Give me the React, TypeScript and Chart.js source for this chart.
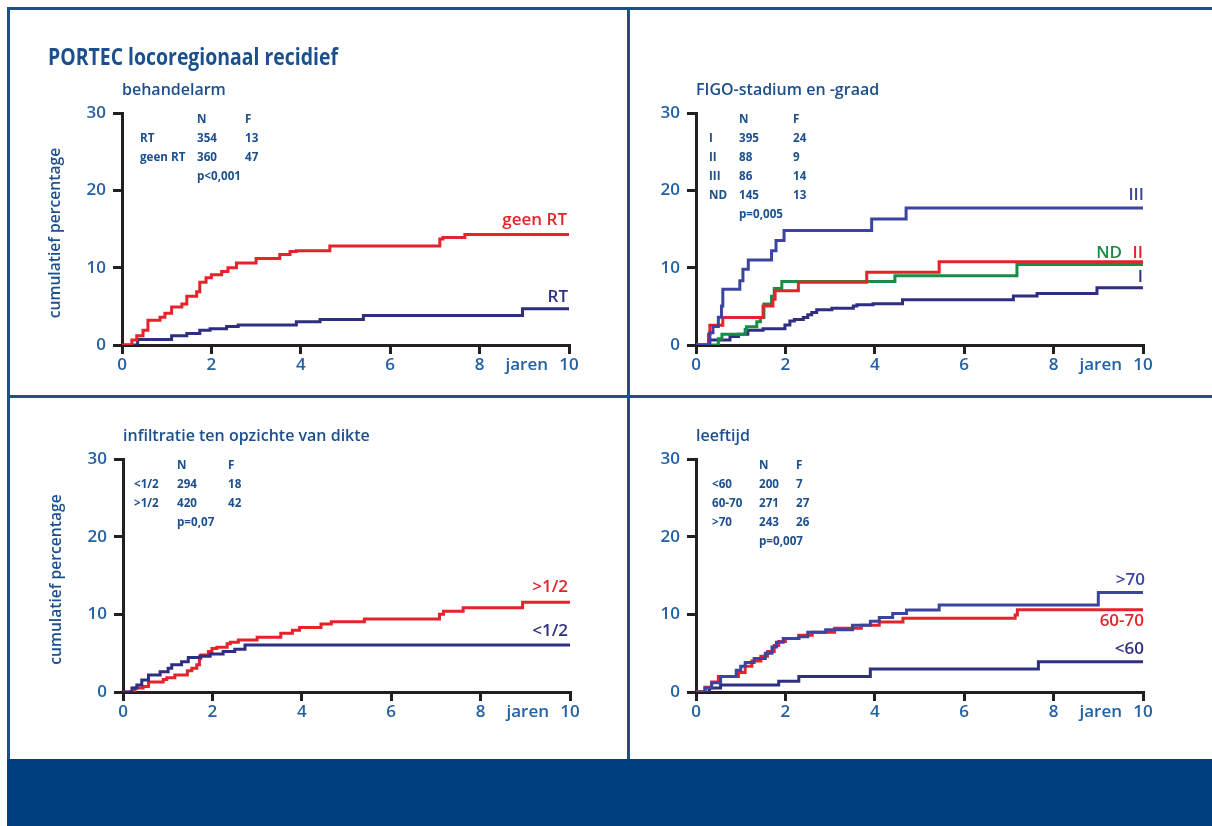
import React, { useEffect, useRef } from 'react';
import { Chart, registerables } from 'chart.js';

Chart.register(...registerables);

const FONT = "'Open Sans', 'Noto Sans', 'DejaVu Sans', sans-serif";
const NAVY = '#2e2f80';
const BLUE = '#3b45a0';
const RED = '#e5232b';
const GREEN = '#1b8c46';
const TEXT = '#1b4f8d';
const TICK = '#2460a4';
const AXIS = '#231f20';
const FRAME = '#1f4f8b';
const BAND = '#003f7e';

// ---- shared axis data ----
const xTickValues = [0, 2, 4, 6, 8, 10];
const yTickValues = [0, 10, 20, 30];
const xUnitLabel = 'jaren';
const yAxisTitle = 'cumulatief percentage';
const mainTitle = 'PORTEC locoregionaal recidief';

// ---- panel A: behandelarm ----
const armTitle = 'behandelarm';
const armGroups = ['RT', 'geen RT'];
const armN = ['354', '360'];
const armF = ['13', '47'];
const armP = 'p<0,001';
const geenRtYears = [0, 0.22, 0.33, 0.47, 0.58, 0.85, 0.96, 1.11, 1.34, 1.45, 1.67, 1.74, 1.88, 2.0, 2.23, 2.37, 2.56, 3.0, 3.53, 3.76, 3.9, 4.65, 7.11, 7.18, 7.67, 10];
const geenRtPct = [0, 0.65, 1.2, 1.9, 3.2, 3.6, 4.1, 4.9, 5.3, 6.3, 6.9, 8.1, 8.7, 9.1, 9.5, 10.0, 10.6, 11.2, 11.7, 12.1, 12.2, 12.8, 13.7, 13.9, 14.3, 14.3];
const rtYears = [0, 0.35, 1.11, 1.45, 1.74, 1.97, 2.34, 2.6, 3.9, 4.43, 5.4, 8.96, 10];
const rtPct = [0, 0.7, 1.2, 1.5, 1.9, 2.1, 2.4, 2.6, 3.0, 3.3, 3.8, 4.7, 4.7];

// ---- panel B: FIGO-stadium en -graad ----
const figoTitle = 'FIGO-stadium en -graad';
const figoGroups = ['I', 'II', 'III', 'ND'];
const figoN = ['395', '88', '86', '145'];
const figoF = ['24', '9', '14', '13'];
const figoP = 'p=0,005';
const stage3Years = [0, 0.31, 0.38, 0.5, 0.57, 0.6, 0.98, 1.05, 1.17, 1.69, 1.79, 1.97, 3.93, 4.7, 10];
const stage3Pct = [0, 1.6, 2.4, 3.6, 5.05, 7.2, 8.3, 9.8, 11.0, 12.2, 13.5, 14.8, 16.3, 17.7, 17.7];
const stage2Years = [0, 0.28, 0.31, 0.6, 1.5, 1.72, 1.77, 2.29, 3.82, 5.44, 10];
const stage2Pct = [0, 1.4, 2.55, 3.55, 5.05, 5.9, 7.0, 8.1, 9.4, 10.75, 10.75];
const stageNdYears = [0, 0.5, 0.58, 1.1, 1.13, 1.36, 1.44, 1.52, 1.69, 1.75, 1.92, 4.45, 7.18, 10];
const stageNdPct = [0, 0.8, 1.4, 2.0, 2.35, 3.0, 3.55, 5.3, 6.3, 7.3, 8.2, 8.95, 10.4, 10.4];
const stage1Years = [0, 0.28, 0.76, 0.95, 1.16, 1.5, 1.99, 2.1, 2.2, 2.4, 2.5, 2.59, 2.7, 3.04, 3.52, 3.6, 3.96, 4.62, 7.1, 7.63, 8.97, 10];
const stage1Pct = [0, 0.65, 1.1, 1.4, 1.9, 2.1, 2.6, 3.1, 3.3, 3.55, 3.9, 4.2, 4.55, 4.75, 5.05, 5.2, 5.35, 5.85, 6.35, 6.65, 7.4, 7.4];

// ---- panel C: infiltratie ----
const infTitle = 'infiltratie ten opzichte van dikte';
const infGroups = ['<1/2', '>1/2'];
const infN = ['294', '420'];
const infF = ['18', '42'];
const infP = 'p=0,07';
const deepYears = [0, 0.27, 0.45, 0.57, 0.9, 0.98, 1.16, 1.44, 1.54, 1.65, 1.71, 1.74, 1.91, 1.99, 2.1, 2.33, 2.4, 2.58, 3.0, 3.53, 3.79, 3.95, 4.43, 4.66, 5.4, 7.08, 7.17, 7.61, 8.94, 10];
const deepPct = [0, 0.5, 0.7, 1.3, 1.6, 1.85, 2.2, 2.75, 3.05, 3.5, 4.3, 4.75, 5.2, 5.6, 5.75, 6.2, 6.4, 6.7, 7.05, 7.55, 7.95, 8.3, 8.75, 9.05, 9.4, 10.0, 10.4, 10.85, 11.55, 11.55];
const superficialYears = [0, 0.2, 0.31, 0.42, 0.57, 0.83, 1.01, 1.09, 1.31, 1.46, 1.72, 1.95, 2.24, 2.5, 2.73, 10];
const superficialPct = [0, 0.5, 0.9, 1.55, 2.2, 2.6, 3.05, 3.5, 3.9, 4.45, 4.6, 4.9, 5.2, 5.5, 6.05, 6.05];

// ---- panel D: leeftijd ----
const ageTitle = 'leeftijd';
const ageGroups = ['<60', '60-70', '>70'];
const ageN = ['200', '271', '243'];
const ageF = ['7', '27', '26'];
const ageP = 'p=0,007';
const over70Years = [0, 0.2, 0.35, 0.55, 0.9, 1.0, 1.1, 1.3, 1.55, 1.7, 1.8, 1.95, 2.3, 2.5, 2.9, 3.5, 3.9, 4.1, 4.4, 4.71, 5.44, 9.0, 10];
const over70Pct = [0, 0.5, 1.2, 2.0, 2.8, 3.3, 3.8, 4.3, 5.0, 5.8, 6.4, 6.9, 7.1, 7.7, 8.0, 8.6, 9.1, 9.6, 10.1, 10.55, 11.2, 12.8, 12.8];
const age6070Years = [0, 0.2, 0.35, 0.5, 0.95, 1.1, 1.25, 1.45, 1.6, 1.75, 1.85, 2.0, 2.3, 2.6, 3.1, 3.7, 4.1, 4.63, 7.14, 7.19, 10];
const age6070Pct = [0, 0.6, 1.3, 2.0, 2.5, 3.3, 4.0, 4.6, 5.2, 6.0, 6.5, 6.9, 7.3, 7.7, 8.2, 8.6, 9.0, 9.5, 9.9, 10.6, 10.6];
const under60Years = [0, 0.3, 0.55, 1.85, 2.3, 3.9, 7.66, 10];
const under60Pct = [0, 0.5, 0.9, 1.4, 2.0, 2.95, 3.9, 3.9];

type SeriesCfg = { name: string; years: number[]; pct: number[]; color: string; dx: number; dy: number };
type PanelCfg = {
  box: number[]; // canvas left, top, width, height (page px)
  area: number[]; // plot area left, top, right, bottom (page px)
  title: string;
  groups: string[];
  n: string[];
  f: string[];
  p: string;
  cols: number[];
  series: SeriesCfg[];
  showMain: boolean;
  showYTitle: boolean;
};

const TICK_LEN = 9;
const X_TICK_PAD = 1;
const TICK_SIZE = 17;

function txt(ctx: CanvasRenderingContext2D, s: string, x: number, y: number, font: string, color: string, align: CanvasTextAlign = 'left', sx = 1) {
  ctx.save();
  ctx.font = font;
  ctx.fillStyle = color;
  ctx.textAlign = align;
  ctx.textBaseline = 'alphabetic';
  ctx.translate(x, y);
  ctx.scale(sx, 1);
  ctx.fillText(s, 0, 0);
  ctx.restore();
}

const panels: PanelCfg[] = [
  {
    box: [10, 10, 617, 384], area: [122, 113, 569, 345],
    title: armTitle, groups: armGroups, n: armN, f: armF, p: armP, cols: [18, 75, 123],
    showMain: true, showYTitle: true,
    series: [
      { name: 'geen RT', years: geenRtYears, pct: geenRtPct, color: RED, dx: -2, dy: -9 },
      { name: 'RT', years: rtYears, pct: rtPct, color: NAVY, dx: -1, dy: -7 },
    ],
  },
  {
    box: [631, 10, 581, 384], area: [696, 113, 1143, 345],
    title: figoTitle, groups: figoGroups, n: figoN, f: figoF, p: figoP, cols: [13, 43, 97],
    showMain: false, showYTitle: false,
    series: [
      { name: 'III', years: stage3Years, pct: stage3Pct, color: BLUE, dx: 1, dy: -8 },
      { name: 'II', years: stage2Years, pct: stage2Pct, color: RED, dx: 0, dy: -4 },
      { name: 'ND', years: stageNdYears, pct: stageNdPct, color: GREEN, dx: -21, dy: -7 },
      { name: 'I', years: stage1Years, pct: stage1Pct, color: NAVY, dx: 0, dy: -6 },
    ],
  },
  {
    box: [10, 398, 617, 360], area: [123, 459, 570, 692],
    title: infTitle, groups: infGroups, n: infN, f: infF, p: infP, cols: [11, 54, 105],
    showMain: false, showYTitle: true,
    series: [
      { name: '<1/2', years: superficialYears, pct: superficialPct, color: NAVY, dx: -2, dy: -9 },
      { name: '>1/2', years: deepYears, pct: deepPct, color: RED, dx: -2, dy: -10 },
    ],
  },
  {
    box: [631, 398, 581, 360], area: [696, 459, 1143, 692],
    title: ageTitle, groups: ageGroups, n: ageN, f: ageF, p: ageP, cols: [16, 63, 100],
    showMain: false, showYTitle: false,
    series: [
      { name: '>70', years: over70Years, pct: over70Pct, color: BLUE, dx: 2, dy: -8 },
      { name: '60-70', years: age6070Years, pct: age6070Pct, color: RED, dx: 1, dy: 16 },
      { name: '<60', years: under60Years, pct: under60Pct, color: NAVY, dx: 1, dy: -8 },
    ],
  },
];

function KMPanel({ cfg }: { cfg: PanelCfg }) {
  const ref = useRef<HTMLCanvasElement>(null);
  useEffect(() => {
    const [bx, by, bw, bh] = cfg.box;
    const [al, at, ar, ab] = cfg.area;
    const textPlugin = {
      id: 'kmText',
      afterDraw(chart: any) {
        const ctx: CanvasRenderingContext2D = chart.ctx;
        const a = chart.chartArea;
        const xs = chart.scales.x;
        const ys = chart.scales.y;
        if (cfg.showMain) {
          txt(ctx, mainTitle, a.left - 74, a.top - 48, `700 23px ${FONT}`, TEXT, 'left', 0.845);
        }
        txt(ctx, cfg.title, a.left, a.top - 18, `600 16px ${FONT}`, TEXT, 'left', 1);
        if (cfg.showYTitle) {
          ctx.save();
          ctx.font = `600 17px ${FONT}`;
          ctx.fillStyle = TEXT;
          ctx.textAlign = 'center';
          ctx.textBaseline = 'middle';
          ctx.translate(a.left - 67, (a.top + a.bottom) / 2 + 4);
          ctx.rotate(-Math.PI / 2);
          ctx.scale(0.92, 1);
          ctx.fillText(yAxisTitle, 0, 0);
          ctx.restore();
        }
        const tf = `700 12px ${FONT}`;
        const [c0, c1, c2] = cfg.cols;
        const yb = a.top + 10;
        txt(ctx, 'N', a.left + c1, yb, tf, TEXT, 'left', 0.97);
        txt(ctx, 'F', a.left + c2, yb, tf, TEXT, 'left', 0.97);
        cfg.groups.forEach((g, i) => {
          const y = yb + 19 * (i + 1);
          txt(ctx, g, a.left + c0, y, tf, TEXT, 'left', 0.97);
          txt(ctx, cfg.n[i], a.left + c1, y, tf, TEXT, 'left', 0.97);
          txt(ctx, cfg.f[i], a.left + c2, y, tf, TEXT, 'left', 0.97);
        });
        txt(ctx, cfg.p, a.left + c1, yb + 19 * (cfg.groups.length + 1), tf, TEXT, 'left', 0.97);
        cfg.series.forEach((s) => {
          const last = s.pct[s.pct.length - 1];
          const y = ys.getPixelForValue(last) + s.dy;
          txt(ctx, s.name, a.right + s.dx, y, `600 17px ${FONT}`, s.color, 'right', 1);
        });
        ctx.save();
        ctx.font = `600 ${TICK_SIZE}px ${FONT}`;
        ctx.fillStyle = TICK;
        ctx.textAlign = 'right';
        ctx.textBaseline = 'middle';
        ctx.fillText(xUnitLabel, xs.getPixelForValue(10) - 21, a.bottom + TICK_LEN + X_TICK_PAD + (TICK_SIZE * 1.2) / 2);
        ctx.restore();
      },
    };
    const tickFont = { family: FONT, size: TICK_SIZE, weight: '600' as any };
    const chart = new Chart(ref.current as HTMLCanvasElement, {
      type: 'line',
      data: {
        datasets: cfg.series.map((s) => ({
          label: s.name,
          data: s.years.map((x, i) => ({ x, y: s.pct[i] })),
          borderColor: s.color,
          backgroundColor: s.color,
          borderWidth: 3,
          pointRadius: 0,
          stepped: 'before' as const,
          fill: false,
          borderJoinStyle: 'miter' as const,
          borderCapStyle: 'butt' as const,
        })),
      },
      options: {
        animation: false,
        responsive: false,
        maintainAspectRatio: false,
        devicePixelRatio: 1,
        layout: { padding: { left: 0, bottom: 0, top: at - by, right: bx + bw - ar } },
        plugins: { legend: { display: false }, tooltip: { enabled: false }, title: { display: false } },
        scales: {
          x: {
            type: 'linear',
            min: 0,
            max: 10,
            afterBuildTicks: (axis: any) => { axis.ticks = xTickValues.map((value) => ({ value })); },
            afterFit: (axis: any) => { axis.height = by + bh - ab; },
            grid: { drawOnChartArea: false, drawTicks: true, tickLength: TICK_LEN, color: AXIS, lineWidth: 3 },
            border: { display: true, color: AXIS, width: 3 },
            ticks: { color: TICK, font: tickFont, padding: X_TICK_PAD, autoSkip: false, maxRotation: 0 },
          },
          y: {
            type: 'linear',
            min: 0,
            max: 30,
            afterBuildTicks: (axis: any) => { axis.ticks = yTickValues.map((value) => ({ value })); },
            afterFit: (axis: any) => { axis.width = al - bx; },
            grid: { drawOnChartArea: false, drawTicks: true, tickLength: TICK_LEN, color: AXIS, lineWidth: 3 },
            border: { display: true, color: AXIS, width: 3 },
            ticks: { color: TICK, font: tickFont, padding: 7 },
          },
        },
      },
      plugins: [textPlugin],
    } as any);
    return () => chart.destroy();
  }, [cfg]);
  const [bx, by, bw, bh] = cfg.box;
  return (
    <canvas
      ref={ref}
      width={bw}
      height={bh}
      style={{ position: 'absolute', left: bx, top: by, width: bw, height: bh }}
    />
  );
}

export default function App() {
  const line = (left: number, top: number, width: number, height: number, color: string) => (
    <div style={{ position: 'absolute', left, top, width, height, background: color }} />
  );
  return (
    <div style={{ position: 'absolute', left: 0, top: 0, width: 1212, height: 826, background: '#ffffff', overflow: 'hidden' }}>
      {line(7, 7, 1205, 3, FRAME)}
      {line(7, 7, 3, 752, FRAME)}
      {line(627, 7, 3, 752, FRAME)}
      {line(7, 395, 1205, 3, FRAME)}
      {line(7, 759, 1205, 67, BAND)}
      {panels.map((p, i) => (
        <KMPanel key={i} cfg={p} />
      ))}
    </div>
  );
}
